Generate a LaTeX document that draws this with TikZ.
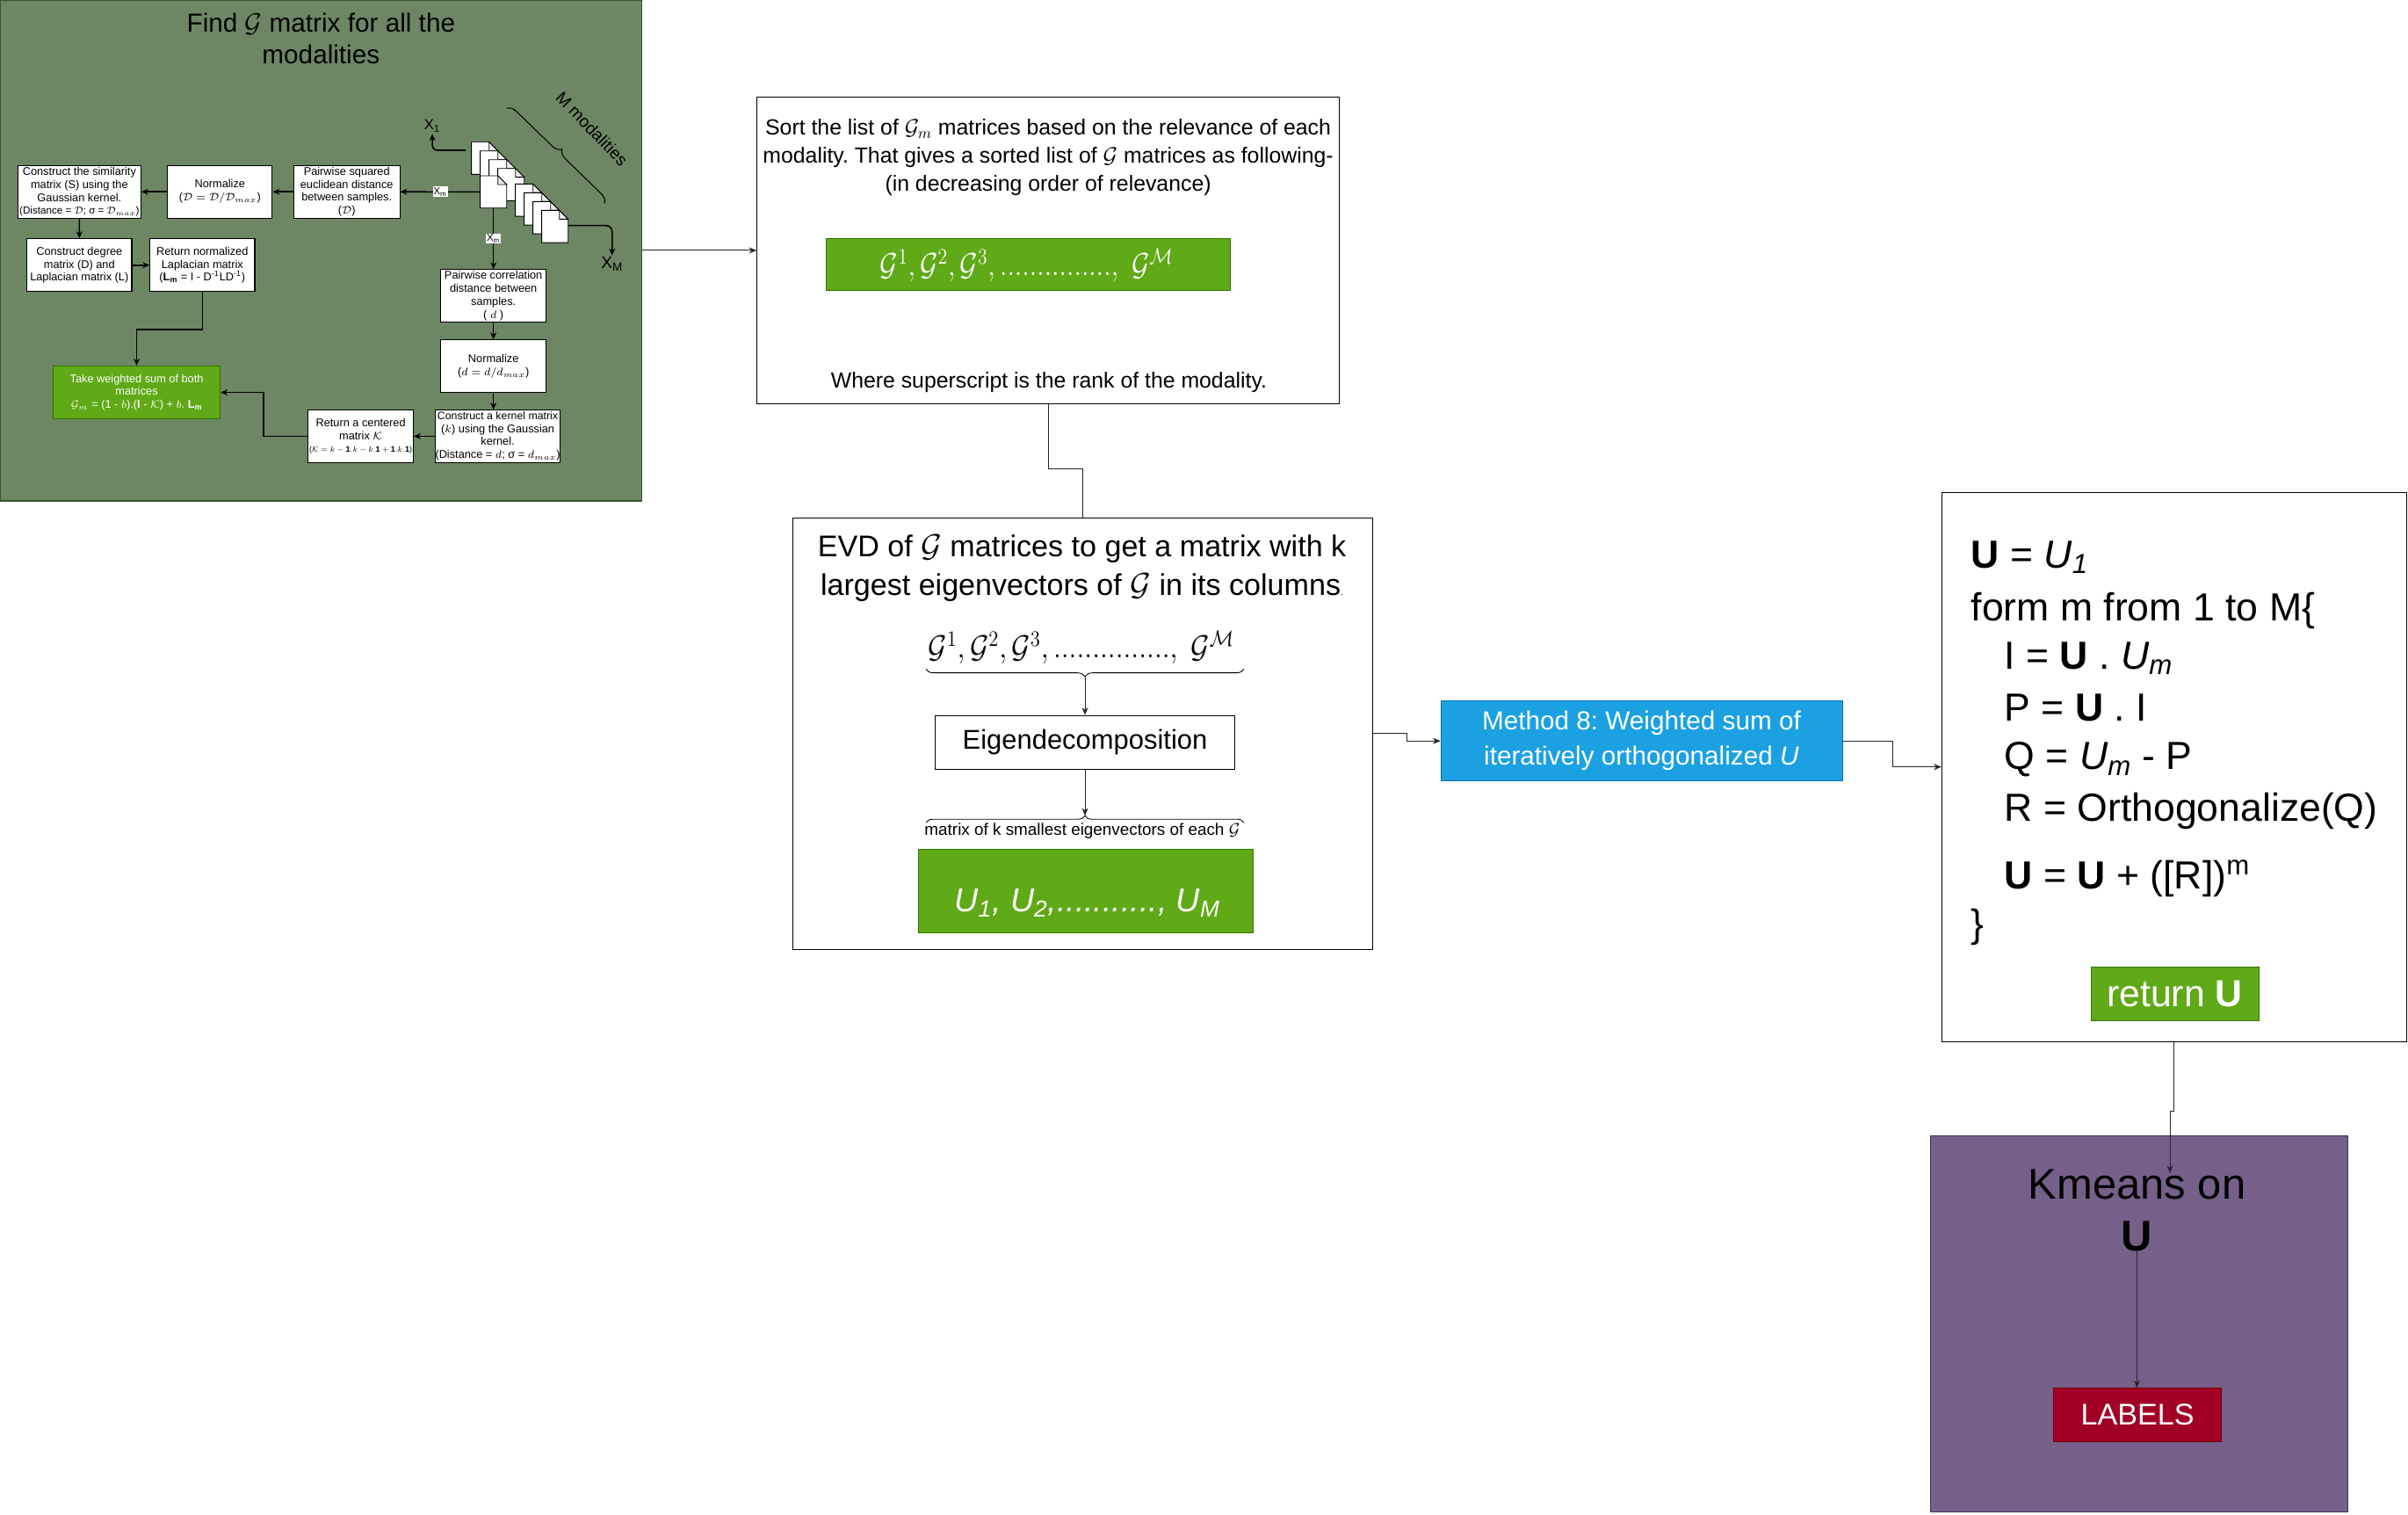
\documentclass[tikz,border=0pt]{standalone}
\usepackage{graphicx}
\usepackage{fontspec}
\setmainfont{Liberation Sans}
\usetikzlibrary{arrows.meta,decorations.pathreplacing,calc}
\newcommand\fsz[2]{\fontsize{#1}{#2}\selectfont}
\definecolor{olivebg}{HTML}{6D8764}
\definecolor{olivedk}{HTML}{3A5431}
\definecolor{gfill}{HTML}{60A917}
\definecolor{gdraw}{HTML}{2D7600}
\definecolor{bfill}{HTML}{1BA1E2}
\definecolor{bdraw}{HTML}{006EAF}
\definecolor{pfill}{HTML}{76608A}
\definecolor{pdraw}{HTML}{432D57}
\definecolor{rfill}{HTML}{A20025}
\definecolor{rdraw}{HTML}{6F0000}
\newcommand\pagedoc[2]{%
  \filldraw[pagesty] (#1,#2) -- (#1+11.5,#2) -- (#1+17.2,#2+5.7) -- (#1+17.2,#2+21) -- (#1,#2+21) -- cycle;
  \filldraw[foldsty] (#1+11.5,#2) -- (#1+11.5,#2+5.7) -- (#1+17.2,#2+5.7) -- cycle;}
\newcommand\glist{$\mathcal{G}^{1}, \mathcal{G}^{2}, \mathcal{G}^{3},...............,\ \mathcal{G}^{\mathcal{M}}$}
\frenchspacing
\begin{document}
\begin{tikzpicture}[x=1pt,y=-1pt,
  sbox/.style={draw=black, fill=white, line width=0.6pt, align=center, inner sep=0pt, font=\fsz{7.3}{8.5}},
  garrow/.style={-{Stealth[length=4.5pt,width=4pt]}, line width=0.9pt},
  thinarr/.style={-{Stealth[length=5pt,width=4pt]}, line width=0.6pt, draw=black!85},
  conn/.style={line width=0.6pt, draw=black!85},
  pagesty/.style={fill=white, draw=black, line width=0.5pt},
  foldsty/.style={fill=gray!15, draw=black, line width=0.5pt},
  xmlab/.style={fill=white, inner sep=0.6pt, font=\fsz{6.5}{7}},
  codeline/.style={anchor=base west, inner sep=0pt, font=\fsz{25.5}{30}},
  plainbox/.style={draw=black, line width=0.6pt, inner sep=0pt, fill=white}]
\useasboundingbox (0,0) rectangle (1568,986.2);
\fill[white] (0,0) rectangle (1568,986.2);

% ---------- green panel ----------
\node[draw=olivedk, fill=olivebg, minimum width=418, minimum height=326, inner sep=0, line width=0.8pt] (panel) at (209,163) {};
\node[font=\fsz{17}{20.5}, align=center] (title) at (209,25.1) {Find $\mathcal{G}$ matrix for all the\\modalities};

\node[sbox, minimum width=80, minimum height=34.3] (sim) at (51.7,124.85) {Construct the similarity\\matrix (S) using the\\Gaussian kernel.\\\resizebox{78pt}{!}{(Distance = $\mathcal{D}$; σ = $\mathcal{D}_{max}$)}};
\node[sbox, minimum width=68.2, minimum height=34.3] (normA) at (143.2,124.85) {Normalize\\($\mathcal{D} = \mathcal{D}/\mathcal{D}_{max}$)};
\node[sbox, minimum width=69, minimum height=34.3] (pairsq) at (225.8,124.85) {Pairwise squared\\euclidean distance\\between samples.\\($\mathcal{D}$)};
\node[sbox, minimum width=68.3, minimum height=34.4] (degree) at (51.65,172.6) {Construct degree\\matrix (D) and\\Laplacian matrix (L)};
\node[sbox, minimum width=68.3, minimum height=34.4] (retnorm) at (131.75,172.6) {Return normalized\\Laplacian matrix\\(\textbf{L\textsubscript{m}} = I - D\textsuperscript{-1}LD\textsuperscript{-1})};
\node[sbox, fill=gfill, draw=gdraw, text=white, minimum width=108.8, minimum height=34.5] (wsum) at (89,255.45) {Take weighted sum of both\\matrices\\$\mathcal{G}_m$ = (1 - $b$).(\textbf{I} - $\mathcal{K}$) + $b$. \textbf{L\textsubscript{m}}};
\node[sbox, minimum width=68.6, minimum height=34.1] (centered) at (234.9,283.95) {Return a centered\\matrix $\mathcal{K}$\\\resizebox{67pt}{!}{($\mathcal{K} = k - \mathbf{1}.k - k.\mathbf{1} + \mathbf{1}.k.\mathbf{1}$)}};
\node[sbox, minimum width=80.2, minimum height=34.1] (kernel) at (324.1,283.95) {\resizebox{78.5pt}{!}{Construct a kernel matrix}\\($k$) using the Gaussian\\kernel.\\(Distance = $d$; σ = $d_{max}$)};
\node[sbox, minimum width=68.6, minimum height=34.4] (normB) at (321.3,238.4) {Normalize\\($d = d/d_{max}$)};
\node[sbox, minimum width=68.6, minimum height=34.2] (paircorr) at (321.3,192.6) {Pairwise correlation\\distance between\\samples.\\( $d$ )};

% pages
\foreach \k in {0,1,2,3} {\pagedoc{307+5.72*\k}{92.5+5.72*\k}}
\foreach \j in {0,1,2,3} {\pagedoc{335.6+5.72*\j}{119.8+5.72*\j}}
\pagedoc{312.7}{114.4}
\coordinate (xmW) at (312.7,124.9);
\coordinate (xmS) at (321.3,135.4);
\coordinate (x1start) at (303.2,97.8);
\coordinate (xMstart) at (370,146.8);

\node[font=\fsz{9.5}{11}, inner sep=1pt] (xone) at (281.5,82) {X\textsubscript{1}};
\node[font=\fsz{11}{13}, inner sep=1pt] (xM) at (398.6,172) {X\textsubscript{M}};

\draw[garrow, rounded corners=3pt] (x1start) -| (xone.south);
\draw[garrow, rounded corners=4pt] (xMstart) -| (xM.north);
\draw[garrow] (xmW) -- node[xmlab]{X\textsubscript{m}} (pairsq.east);
\draw[garrow] (xmS) -- node[xmlab]{X\textsubscript{m}} (paircorr.north);
\draw[garrow] (pairsq.west) -- (normA.east);
\draw[garrow] (normA.west) -- (sim.east);
\draw[garrow] (sim.south) -- (degree.north);
\draw[garrow] (degree.east) -- (retnorm.west);
\draw[garrow] (retnorm.south) -- ++(0,24.3) -| (wsum.north);
\draw[garrow] (paircorr.south) -- (normB.north);
\draw[garrow] (normB.south) -- (normB.south |- kernel.north);
\draw[garrow] (kernel.west) -- (centered.east);
\draw[garrow] (centered.west) -- ++(-28.6,0) |- (wsum.east);

\draw[line width=0.6pt, decorate, decoration={brace, amplitude=6pt}] (329.9,70.5) -- (393.8,132.5);
\node[rotate=-46, font=\fsz{11}{13}] (mmod) at (385.5,83.8) {M modalities};

% ---------- sort box ----------
\node[plainbox, minimum width=379, minimum height=200] (sort) at (682.5,163) {};
\node[font=\fsz{14.2}{18.5}, align=center] (sorttext) at (682.5,102.5) {Sort the list of $\mathcal{G}_m$ matrices based on the relevance of each\\modality. That gives a sorted list of $\mathcal{G}$ matrices as following-\\(in decreasing order of relevance)};
\node[fill=gfill, draw=gdraw, minimum width=263.2, minimum height=33.8, inner sep=0] (gbox1) at (669.4,171.9) {};
\node[text=white, font=\fsz{22}{24}, inner sep=0] (glist1) at (668.5,172.5) {\scalebox{0.86}[1]{\glist}};
\node[font=\fsz{14.2}{17}] (where) at (683,248.9) {Where superscript is the rank of the modality.};

% ---------- EVD box ----------
\node[plainbox, minimum width=378, minimum height=281] (evd) at (705,477.5) {};
\node[font=\fsz{19.5}{25.7}, align=center] (evdtext) at (704.5,369.9) {EVD of $\mathcal{G}$ matrices to get a matrix with k\\largest eigenvectors of $\mathcal{G}$ in its columns{\fsz{6}{6}.}};
\node[font=\fsz{20.5}{22}, inner sep=0] (glist2) at (704,421.5) {\scalebox{0.9}[1]{\glist}};
\draw[decorate, decoration={brace, amplitude=5pt}, line width=0.5pt] (810,435.5) -- (603,435.5);
\coordinate (btip1) at (706.5,440.5);
\node[plainbox, minimum width=195, minimum height=34.9, font=\fsz{17.7}{20}] (eig) at (706.5,483.25) {Eigendecomposition};
\draw[thinarr] (btip1) -- (eig.north);
\coordinate (btip2) at (706.5,531);
\draw[thinarr] (eig.south) -- (btip2);
\draw[decorate, decoration={brace, amplitude=4.5pt}, line width=0.5pt] (603,535.5) -- (810,535.5);
\node[font=\fsz{10.8}{12}] (kvec) at (704.7,541) {matrix of k smallest eigenvectors of each $\mathcal{G}$};
\node[fill=gfill, draw=gdraw, minimum width=218, minimum height=54.4, inner sep=0] (ubox) at (706.8,579.8) {};
\node[text=white, font=\fsz{21.5}{24}\itshape] (utext) at (708,588) {U\textsubscript{1}, U\textsubscript{2},..........., U\textsubscript{M}};

% ---------- method ----------
\node[fill=bfill, draw=bdraw, minimum width=261.3, minimum height=52.1, inner sep=0, text=white, align=center, font=\fsz{17}{23}] (method) at (1068.85,482.35) {Method 8: Weighted sum of\\iteratively orthogonalized \textit{U}};

% ---------- pseudo code ----------
\node[plainbox, minimum width=302.5, minimum height=357.5] (pseudo) at (1415.75,499.25) {};
\node[codeline] (c1) at (1283.3,369.6) {\textbf{U} = \textit{U\textsubscript{1}}};
\node[codeline] (c2) at (1283.3,404) {form m from 1 to M\{};
\node[codeline] (c3) at (1305,435.4) {I = \textbf{U} . \textit{U\textsubscript{m}}};
\node[codeline] (c4) at (1305,469.1) {P = \textbf{U} . I};
\node[codeline] (c5) at (1305,501) {Q = \textit{U\textsubscript{m}} - P};
\node[codeline] (c6) at (1305,534.6) {R = Orthogonalize(Q)};
\node[codeline] (c7) at (1305,578.7) {\textbf{U} = \textbf{U} + ([R])\textsuperscript{m}};
\node[codeline] (c8) at (1283.3,610) {\}};
\node[fill=gfill, draw=gdraw, minimum width=109.2, minimum height=34.9, inner sep=0, text=white, font=\fsz{24.5}{28}] (retU) at (1416.1,646.75) {return \textbf{U}};

% ---------- kmeans ----------
\node[fill=pfill, draw=pdraw, minimum width=271.9, minimum height=244.5, inner sep=0] (kbox) at (1392.95,861.75) {};
\node[anchor=base, font=\fsz{28}{32}, inner sep=0] (ktext) at (1391.5,780.5) {Kmeans on};
\node[anchor=base, font=\fsz{28}{32}\bfseries, inner sep=0] (kU) at (1391.5,814.4) {U};
\node[fill=rfill, draw=rdraw, minimum width=109.1, minimum height=34.8, inner sep=0, text=white, font=\fsz{19.5}{22}] (labels) at (1391.85,921.1) {LABELS};
\draw[thinarr] (kU.base) -- (kU.base |- labels.north);

% ---------- connectors ----------
\draw[thinarr] (panel.east) -- (sort.west);
\draw[conn] (sort.south) -- ++(0,42) -| (evd.north);
\draw[thinarr] (evd.east) -- ++(22,0) |- (method.west);
\draw[thinarr] (method.east) -- ++(32.8,0) |- (pseudo.west);
\coordinate (ktip) at (1413,763.7);
\draw[thinarr] (pseudo.south) -- ++(0,44.9) -| (ktip);
\end{tikzpicture}
\end{document}
